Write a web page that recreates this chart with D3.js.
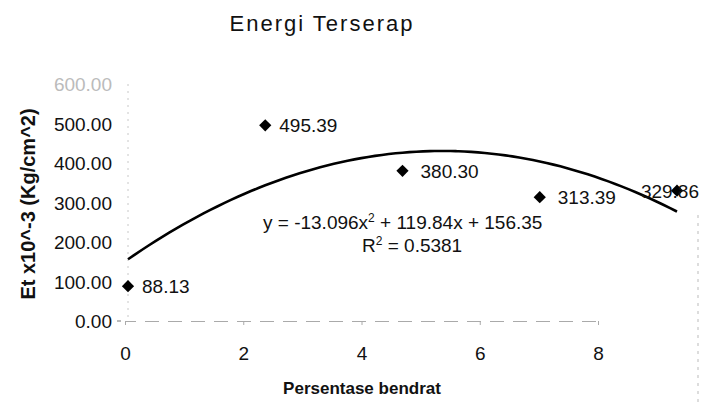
<!DOCTYPE html>
<html>
<head>
<meta charset="utf-8">
<script src="https://cdn.jsdelivr.net/npm/d3@7"></script>
<style>
  body { margin: 0; background: #fff; }
  text { font-family: "Liberation Sans", Arial, sans-serif; fill: #111; }
</style>
</head>
<body>
<svg id="chart" width="703" height="407"></svg>
<script>
// data
const persen = [0, 2, 4, 6, 8];
const energi = [88.13, 495.39, 380.30, 313.39, 329.86];
const energiLabel = ["88.13", "495.39", "380.30", "313.39", "329.86"];
const yTicks = [0, 100, 200, 300, 400, 500, 600];
const xTicks = [0, 2, 4, 6, 8];
// polynomial trendline y = a x^2 + b x + c
const trendCoef = [-13.096, 119.84, 156.35];
const rSquared = "0.5381";

const width = 703,
    height = 407;

const svg = d3.select("#chart");

// the scan squeezes the axis labels, the marks sit on a wider span
const x = d3.scaleLinear().domain([0, 8]).range([128, 677]);
const xAxisScale = d3.scaleLinear().domain([0, 8]).range([125, 598]);
const y = d3.scaleLinear().domain([0, 600]).range([321, 84]);

// title
svg.append("text")
    .attr("x", 322)
    .attr("y", 31)
    .attr("text-anchor", "middle")
    .style("font-size", "22px")
    .style("letter-spacing", "2px")
    .text("Energi Terserap");

// y axis (faint dotted line)
svg.append("line")
    .attr("x1", 128).attr("x2", 128)
    .attr("y1", y(600)).attr("y2", y(0))
    .attr("stroke", "#c8c8c8")
    .attr("stroke-dasharray", "2,5");

svg.append("g")
    .selectAll("text")
    .data(yTicks)
    .join("text")
    .attr("x", 112)
    .attr("y", d => y(d) + 7)
    .attr("text-anchor", "end")
    .style("font-size", "19px")
    .style("fill", d => d === 600 ? "#bbb" : "#111")
    .text(d => d3.format(".2f")(d));

svg.append("line")
    .attr("x1", 117).attr("x2", 121)
    .attr("y1", y(0)).attr("y2", y(0))
    .attr("stroke", "#777");

// x axis
const gx = svg.append("g")
    .attr("transform", `translate(0,${y(0)})`)
    .call(d3.axisBottom(xAxisScale).tickValues(xTicks).tickSize(4).tickPadding(22))
    .call(g => g.select(".domain")
        .attr("stroke", "#aaa")
        .attr("stroke-dasharray", "14,9"));
gx.selectAll(".tick line").attr("stroke", "#aaa");
gx.selectAll(".tick text")
    .style("font-size", "19px")
    .style("font-family", "'Liberation Sans', Arial, sans-serif")
    .attr("fill", "#111");

// right border of the plot area
svg.append("line")
    .attr("x1", 698).attr("x2", 698)
    .attr("y1", 215).attr("y2", 407)
    .attr("stroke", "#bbb")
    .attr("stroke-dasharray", "3,5");

// axis titles
svg.append("text")
    .attr("x", 362)
    .attr("y", 394)
    .attr("text-anchor", "middle")
    .style("font-size", "17px")
    .style("font-weight", "bold")
    .text("Persentase bendrat");

svg.append("text")
    .attr("transform", "translate(35,204) rotate(-90)")
    .attr("text-anchor", "middle")
    .style("font-size", "20px")
    .style("font-weight", "bold")
    .text("Et x10^-3 (Kg/cm^2)");

// trendline
const trendX = d3.range(0, 8.001, 0.1);
const trend = d3.line()
    .x(d => x(d))
    .y(d => y(trendCoef[0] * d * d + trendCoef[1] * d + trendCoef[2]))
    .curve(d3.curveBasis);

svg.append("path")
    .datum(trendX)
    .attr("d", trend)
    .attr("fill", "none")
    .attr("stroke", "#000")
    .attr("stroke-width", 2.6);

// points
const points = persen.map((p, i) => ({ p: p, v: energi[i], label: energiLabel[i] }));

svg.append("g")
    .selectAll("path")
    .data(points)
    .join("path")
    .attr("transform", d => `translate(${x(d.p)},${y(d.v)})`)
    .attr("d", d3.symbol(d3.symbolDiamond2, 95))
    .attr("fill", "#000");

svg.append("g")
    .selectAll("text")
    .data(points)
    .join("text")
    .attr("x", (d, i) => i === points.length - 1 ? 699 : x(d.p) + (i < 2 ? 14 : 18))
    .attr("y", d => y(d.v) + 7)
    .attr("text-anchor", (d, i) => i === points.length - 1 ? "end" : "start")
    .style("font-size", "19px")
    .text(d => d.label);

// trendline equation
const eq = svg.append("text")
    .attr("x", 263)
    .attr("y", 229)
    .style("font-size", "19px");
eq.append("tspan").text(`y = ${trendCoef[0]}x`);
eq.append("tspan").attr("dy", -7).style("font-size", "12px").text("2");
eq.append("tspan").attr("dy", 7).text(` + ${trendCoef[1]}x + ${trendCoef[2]}`);

const r2 = svg.append("text")
    .attr("x", 362)
    .attr("y", 252)
    .style("font-size", "19px");
r2.append("tspan").text("R");
r2.append("tspan").attr("dy", -7).style("font-size", "12px").text("2");
r2.append("tspan").attr("dy", 7).text(` = ${rSquared}`);
</script>
</body>
</html>
